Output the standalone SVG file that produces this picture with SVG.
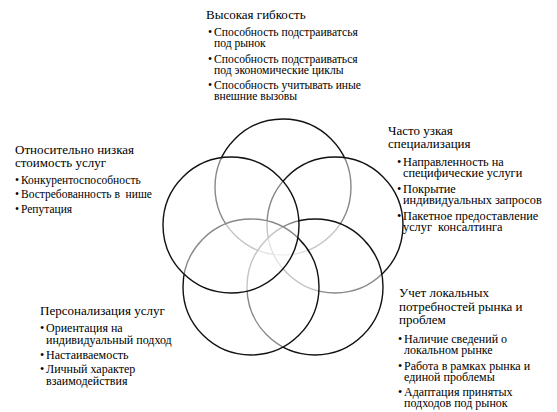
<svg xmlns="http://www.w3.org/2000/svg" width="557" height="412" viewBox="0 0 557 412">
<style>
text{font-family:"Liberation Serif","DejaVu Serif",serif;fill:#000}
.h{font-size:13px}
.b{font-size:12px}
.bt{font-size:11.6px}
.bl{font-size:11.5px}
.br{font-size:12.3px}
.c{fill:#fff;fill-opacity:0.5;stroke:#111;stroke-width:1.4}
</style>
<rect width="557" height="412" fill="#fff"/>
<g id="node-top">
<circle class="c" cx="283" cy="187" r="68"/>
<text class="h" x="206" y="19">Высокая гибкость</text>
<text class="bt" x="208" y="36">•</text><text class="bt" x="214" y="36">Способность подстраиватсья</text>
<text class="bt" x="214" y="47">под рынок</text>
<text class="bt" x="208" y="63">•</text><text class="bt" x="214" y="63">Способность подстраиваться</text>
<text class="bt" x="214" y="74">под экономические циклы</text>
<text class="bt" x="208" y="89">•</text><text class="bt" x="214" y="89">Способность учитывать иные</text>
<text class="bt" x="214" y="100">внешние вызовы</text>
</g>
<g id="node-right">
<circle class="c" cx="335" cy="225" r="68"/>
<text class="h" x="388" y="135">Часто узкая</text>
<text class="h" x="388" y="148">специализация</text>
<text class="br" x="397" y="166">•</text><text class="br" x="403" y="166">Направленность на</text>
<text class="br" x="403" y="177">специфические услуги</text>
<text class="br" x="397" y="193">•</text><text class="br" x="403" y="193">Покрытие</text>
<text class="br" x="403" y="204">индивидуальных запросов</text>
<text class="br" x="397" y="220">•</text><text class="br" x="403" y="220">Пакетное предоставление</text>
<text class="br" x="403" y="231" xml:space="preserve">услуг  консалтинга</text>
</g>
<g id="node-bottom-right">
<circle class="c" cx="315" cy="287" r="68"/>
<text class="h" x="399" y="297">Учет локальных</text>
<text class="h" x="399" y="311">потребностей рынка и</text>
<text class="h" x="399" y="324">проблем</text>
<text class="b" x="398" y="343">•</text><text class="b" x="404" y="343">Наличие сведений о</text>
<text class="b" x="404" y="354">локальном рынке</text>
<text class="b" x="398" y="370">•</text><text class="b" x="404" y="370">Работа в рамках рынка и</text>
<text class="b" x="404" y="381">единой проблемы</text>
<text class="b" x="398" y="396">•</text><text class="b" x="404" y="396">Адаптация принятых</text>
<text class="b" x="404" y="407">подходов под рынок</text>
</g>
<g id="node-bottom-left">
<circle class="c" cx="251" cy="287" r="68"/>
<text class="h" x="40" y="315">Персонализация услуг</text>
<text class="b" x="40" y="332">•</text><text class="b" x="46" y="332">Ориентация на</text>
<text class="b" x="46" y="344">индивидуальный подход</text>
<text class="b" x="40" y="359">•</text><text class="b" x="46" y="359">Настаиваемость</text>
<text class="b" x="40" y="373">•</text><text class="b" x="46" y="373">Личный характер</text>
<text class="b" x="46" y="385">взаимодействия</text>
</g>
<g id="node-left">
<circle class="c" cx="231" cy="225" r="68"/>
<text class="h" x="15" y="154">Относительно низкая</text>
<text class="h" x="15" y="167">стоимость услуг</text>
<text class="bl" x="15" y="184">•</text><text class="bl" x="21" y="184">Конкурентоспособность</text>
<text class="bl" x="15" y="198">•</text><text class="bl" x="21" y="198" xml:space="preserve">Востребованность в  нише</text>
<text class="bl" x="15" y="213">•</text><text class="bl" x="21" y="213">Репутация</text>
</g>
</svg>
